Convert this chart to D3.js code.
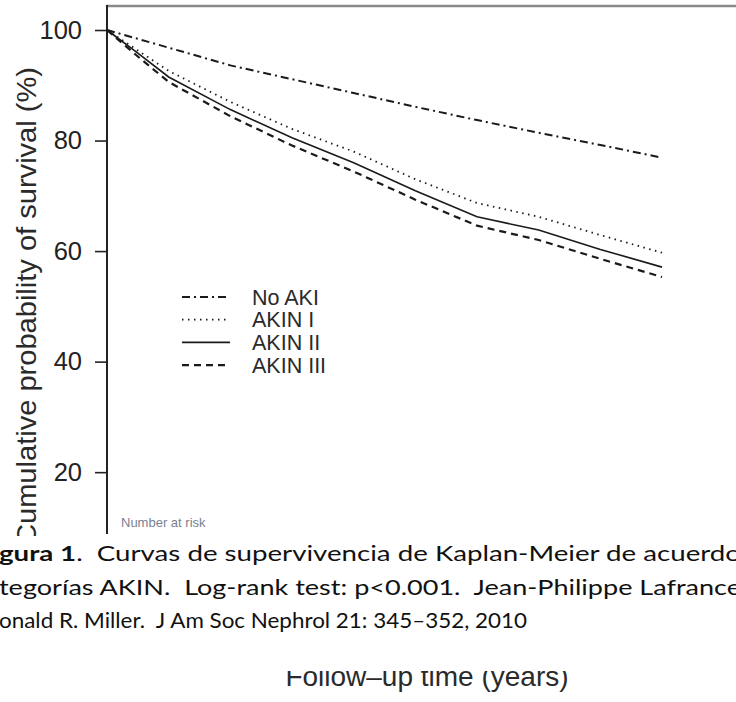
<!DOCTYPE html>
<html>
<head>
<meta charset="utf-8">
<script src="https://cdn.jsdelivr.net/npm/d3@7"></script>
<style>
  body { margin: 0; background: #fff; }
  svg { display: block; }
</style>
</head>
<body>
<div id="content-area"></div>
<script>
const years = [0, 0.5, 1, 2, 3, 4, 5, 6, 7, 8, 9];

// Cumulative probability of survival (%)
const noAki   = [100, 98.4, 96.8, 93.6, 91.1, 88.6, 86.1, 83.7, 81.4, 79.2, 76.9];
const akinI   = [100, 96.3, 92.6, 87.0, 82.1, 78.0, 73.0, 68.7, 66.2, 62.9, 59.7];
const akinII  = [100, 95.8, 91.5, 85.6, 80.5, 76.0, 70.9, 66.2, 63.8, 60.3, 57.1];
const akinIII = [100, 95.2, 90.6, 84.4, 79.1, 74.4, 69.3, 64.6, 62.0, 58.6, 55.3];

const seriesNames = ["No AKI", "AKIN I", "AKIN II", "AKIN III"];
const yTicks = [20, 40, 60, 80, 100];

const yLabel = "Cumulative probability of survival (%)";
const xLabel = "Follow\u2013up time (years)";
const riskLabel = "Number at risk";

const captionLines = [
    [{ t: "gura 1", b: true }, { t: ".  Curvas de supervivencia de Kaplan-Meier de acuerdo", b: false }],
    [{ t: "tegorías AKIN.  Log-rank test: p<0.001.  Jean-Philippe Lafrance", b: false }],
    [{ t: "onald R. Miller.  J Am Soc Nephrol 21: 345\u2013352, 2010", b: false }]
];

function init() {
    const w = 736;
    const h = 702;
    const axisFont = "'Liberation Sans', Arial, sans-serif";

    const svg = d3.select("#content-area")
        .append("svg")
        .attr("width", w)
        .attr("height", h);

    const x = d3.scaleLinear().domain([0, 10]).range([107, 723.7]);
    const y = d3.scaleLinear().domain([0, 100]).range([582.7, 30]);

    // line styles per series
    const styles = [
        { dash: "8 4 2 4", width: 2 },
        { dash: "1.5 4.5", width: 1.8 },
        { dash: null, width: 1.6 },
        { dash: "7 5", width: 2.2 }
    ];
    const values = [noAki, akinI, akinII, akinIII];

    // frame: top border and y axis line
    svg.append("line")
        .attr("x1", 106).attr("x2", w)
        .attr("y1", 6).attr("y2", 6)
        .attr("stroke", "#8a8a8a")
        .attr("stroke-width", 2.5);

    svg.append("line")
        .attr("x1", 107).attr("x2", 107)
        .attr("y1", 5).attr("y2", 534)
        .attr("stroke", "#222")
        .attr("stroke-width", 2);

    // y axis ticks
    const yAxis = d3.axisLeft(y)
        .tickValues(yTicks)
        .tickSize(12)
        .tickPadding(13);

    const gy = svg.append("g")
        .attr("transform", "translate(107,0)")
        .call(yAxis);
    gy.select(".domain").remove();
    gy.selectAll(".tick line").attr("stroke", "#222").attr("stroke-width", 1.6);
    gy.selectAll(".tick text")
        .attr("font-family", axisFont)
        .attr("font-size", "25.5px")
        .attr("fill", "#222");

    // y axis title
    svg.append("text")
        .attr("transform", "translate(36,306) rotate(-90)")
        .attr("text-anchor", "middle")
        .attr("font-family", axisFont)
        .attr("font-size", "28px")
        .attr("fill", "#2a2a2a")
        .attr("textLength", 478)
        .attr("lengthAdjust", "spacingAndGlyphs")
        .text(yLabel);

    // curves
    const line = d3.line()
        .x(function(d) { return x(d[0]); })
        .y(function(d) { return y(d[1]); });

    values.forEach(function(vals, i) {
        const pts = years.map(function(t, j) { return [t, vals[j]]; });
        svg.append("path")
            .datum(pts)
            .attr("d", line)
            .attr("fill", "none")
            .attr("stroke", "#1a1a1a")
            .attr("stroke-width", styles[i].width)
            .attr("stroke-dasharray", styles[i].dash);
    });

    // legend
    const legend = svg.append("g");
    seriesNames.forEach(function(name, i) {
        const ly = 297 + i * 22.7;
        legend.append("line")
            .attr("x1", 182).attr("x2", 230)
            .attr("y1", ly).attr("y2", ly)
            .attr("stroke", "#1a1a1a")
            .attr("stroke-width", styles[i].width)
            .attr("stroke-dasharray", styles[i].dash);
        legend.append("text")
            .attr("x", 252)
            .attr("y", ly + 7.5)
            .attr("font-family", axisFont)
            .attr("font-size", "21.5px")
            .attr("fill", "#2a2a2a")
            .text(name);
    });

    // number at risk
    svg.append("text")
        .attr("x", 121)
        .attr("y", 527)
        .attr("font-family", axisFont)
        .attr("font-size", "13px")
        .attr("fill", "#7a7f90")
        .text(riskLabel);

    // caption block (white band covering the lower figure)
    svg.append("rect")
        .attr("x", 0).attr("y", 536)
        .attr("width", w).attr("height", 140)
        .attr("fill", "#fff");

    const lineWidths = [742, 742, 528];
    captionLines.forEach(function(parts, i) {
        const t = svg.append("text")
            .attr("x", -1)
            .attr("y", 561 + i * 33.5)
            .attr("font-family", "Lato, 'Open Sans', sans-serif")
            .attr("font-size", "21.5px")
            .attr("fill", "#111")
            .attr("textLength", lineWidths[i])
            .attr("lengthAdjust", "spacingAndGlyphs")
            .style("white-space", "pre");
        parts.forEach(function(p) {
            t.append("tspan")
                .attr("font-weight", p.b ? "bold" : "normal")
                .text(p.t);
        });
    });

    // x axis title, top part hidden by the caption band
    svg.append("clipPath")
        .attr("id", "xclip")
        .append("rect")
        .attr("x", 0).attr("y", 671)
        .attr("width", w).attr("height", 40);

    svg.append("text")
        .attr("clip-path", "url(#xclip)")
        .attr("x", 427)
        .attr("y", 686)
        .attr("text-anchor", "middle")
        .attr("font-family", axisFont)
        .attr("font-size", "28px")
        .attr("fill", "#2a2a2a")
        .text(xLabel);
}

window.onload = init;
</script>
</body>
</html>
